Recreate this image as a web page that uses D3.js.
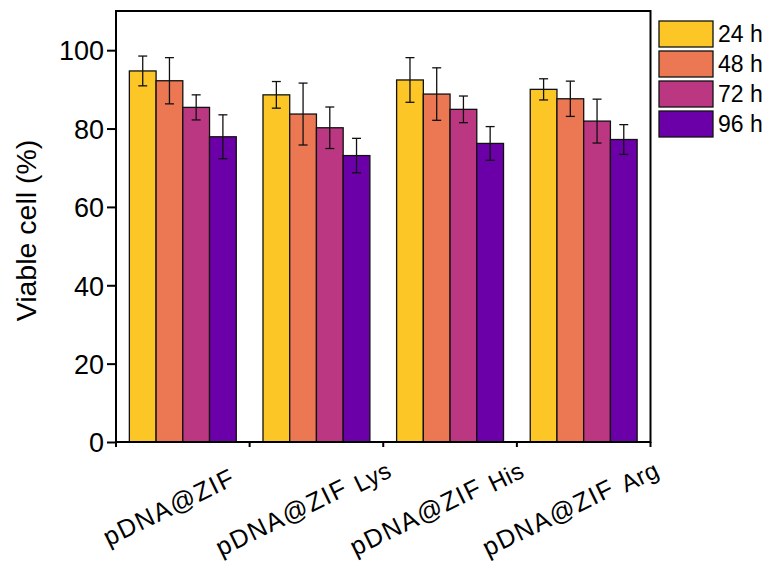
<!DOCTYPE html>
<html>
<head>
<meta charset="utf-8">
<script src="https://d3js.org/d3.v7.min.js"></script>
<style>
  body { margin: 0; background: #fff; }
  text { font-family: "Liberation Sans", Arial, sans-serif; fill: #000; }
</style>
</head>
<body>
<script>
    var width = 769;
    var height = 562;

    // data
    var groups = ["pDNA@ZIF", "pDNA@ZIF Lys", "pDNA@ZIF His", "pDNA@ZIF Arg"];
    var groupMain = ["pDNA@ZIF", "pDNA@ZIF", "pDNA@ZIF", "pDNA@ZIF"];
    var groupSub = ["", "Lys", "His", "Arg"];
    var series = ["24 h", "48 h", "72 h", "96 h"];
    var colors = ["#fcc726", "#ec7853", "#bc3782", "#6c00a8"];

    var means = [
        [94.7, 92.2, 85.4, 77.9],
        [88.6, 83.7, 80.2, 73.1],
        [92.4, 88.8, 84.9, 76.2],
        [90.0, 87.6, 81.9, 77.2]
    ];
    var errors = [
        [3.8, 5.9, 3.2, 5.6],
        [3.4, 7.9, 5.3, 4.4],
        [5.7, 6.7, 3.4, 4.3],
        [2.7, 4.5, 5.6, 3.8]
    ];
    var yTicks = [0, 20, 40, 60, 80, 100];

    var pLeft = 116, pRight = 650.5, pTop = 11, pBottom = 442;

    var svg = d3.select("body")
        .append("svg")
        .attr("width", width)
        .attr("height", height);

    var scaleX = d3.scaleBand()
        .domain(groups)
        .range([pLeft, pRight])
        .padding(0);

    var bw = scaleX.bandwidth();
    var scaleS = d3.scaleBand()
        .domain(series)
        .range([bw * 0.1, bw * 0.9])
        .padding(0);

    var scaleY = d3.scaleLinear()
        .domain([0, 110])
        .range([pBottom, pTop]);

    var rows = [];
    for (var i = 0; i < groups.length; i++) {
        for (var j = 0; j < series.length; j++) {
            rows.push({g: groups[i], s: series[j], c: colors[j], v: means[i][j], e: errors[i][j]});
        }
    }

    // bars
    svg.append("g")
        .selectAll("rect")
        .data(rows)
        .enter()
        .append("rect")
        .attr("x", function(d){ return scaleX(d.g) + scaleS(d.s); })
        .attr("y", function(d){ return scaleY(d.v); })
        .attr("width", scaleS.bandwidth())
        .attr("height", function(d){ return scaleY(0) - scaleY(d.v); })
        .style("fill", function(d){ return d.c; })
        .style("stroke", "#111")
        .style("stroke-width", 1.3);

    // error bars
    var eb = svg.append("g")
        .selectAll("g")
        .data(rows)
        .enter()
        .append("g")
        .attr("transform", function(d){
            return "translate(" + (scaleX(d.g) + scaleS(d.s) + scaleS.bandwidth() / 2) + ",0)";
        })
        .style("stroke", "#111")
        .style("stroke-width", 1.3);

    eb.append("line")
        .attr("x1", 0).attr("x2", 0)
        .attr("y1", function(d){ return scaleY(d.v + d.e); })
        .attr("y2", function(d){ return scaleY(d.v - d.e); });
    eb.append("line")
        .attr("x1", -4.5).attr("x2", 4.5)
        .attr("y1", function(d){ return scaleY(d.v + d.e); })
        .attr("y2", function(d){ return scaleY(d.v + d.e); });
    eb.append("line")
        .attr("x1", -4.5).attr("x2", 4.5)
        .attr("y1", function(d){ return scaleY(d.v - d.e); })
        .attr("y2", function(d){ return scaleY(d.v - d.e); });

    // frame
    svg.append("rect")
        .attr("x", pLeft)
        .attr("y", pTop)
        .attr("width", pRight - pLeft)
        .attr("height", pBottom - pTop)
        .style("fill", "none")
        .style("stroke", "#000")
        .style("stroke-width", 2);

    // y axis
    var yAxis = d3.axisLeft(scaleY)
        .tickValues(yTicks)
        .tickSize(9)
        .tickPadding(3);
    var yg = svg.append("g")
        .attr("transform", "translate(" + pLeft + ",0)")
        .call(yAxis);
    yg.select(".domain").remove();
    yg.selectAll(".tick line").style("stroke-width", 2);
    yg.selectAll("text")
        .style("font-size", "27px")
        .attr("dy", "0.36em");

    // x axis ticks at group boundaries
    var bounds = groups.map(function(g){ return scaleX(g); }).concat([pRight]);
    svg.append("g")
        .selectAll("line")
        .data(bounds)
        .enter()
        .append("line")
        .attr("x1", function(d){ return d; })
        .attr("x2", function(d){ return d; })
        .attr("y1", pBottom)
        .attr("y2", pBottom + 5)
        .style("stroke", "#000")
        .style("stroke-width", 2);

    // x labels
    var xl = svg.append("g")
        .selectAll("text")
        .data(groups)
        .enter()
        .append("text")
        .attr("transform", function(d){
            return "translate(" + (scaleX(d) + bw / 2 - 10) + ",515) rotate(-26)";
        })
        .attr("text-anchor", "middle")
        .style("font-size", "25.5px")
        .style("letter-spacing", "1.4px");
    xl.append("tspan")
        .text(function(d, i){ return groupMain[i]; });
    xl.append("tspan")
        .attr("dx", function(d, i){ return groupSub[i] ? 9 : 0; })
        .attr("dy", 3)
        .style("font-size", "24px")
        .style("letter-spacing", "0.5px")
        .text(function(d, i){ return groupSub[i]; });

    // y title
    svg.append("text")
        .attr("transform", "translate(36," + ((pTop + pBottom) / 2 + 4) + ") rotate(-90)")
        .attr("text-anchor", "middle")
        .style("font-size", "28.5px")
        .text("Viable cell (%)");

    // legend
    var lg = svg.append("g")
        .selectAll("g")
        .data(series)
        .enter()
        .append("g")
        .attr("transform", function(d, i){ return "translate(659," + (21 + i * 30) + ")"; });
    lg.append("rect")
        .attr("width", 54)
        .attr("height", 26)
        .style("fill", function(d, i){ return colors[i]; })
        .style("stroke", "#111")
        .style("stroke-width", 1.3);
    lg.append("text")
        .attr("x", 59)
        .attr("y", 21)
        .style("font-size", "23px")
        .text(function(d){ return d; });
</script>
</body>
</html>
